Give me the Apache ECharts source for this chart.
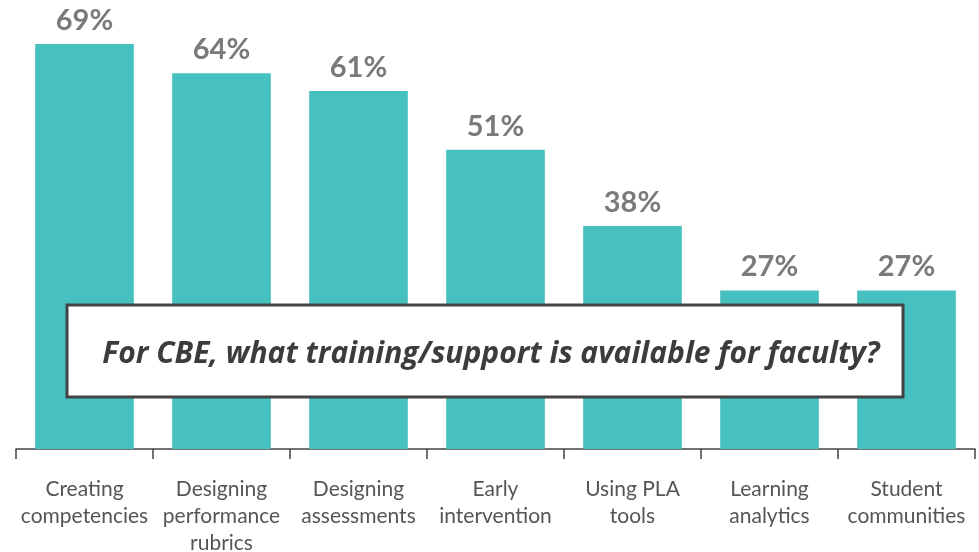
<!DOCTYPE html>
<html>
<head>
<meta charset="utf-8">
<script src="https://cdn.jsdelivr.net/npm/echarts@6/dist/echarts.min.js"></script>
<style>
  html, body { margin: 0; padding: 0; background: #fff; }
  #main { width: 979px; height: 552px; }
</style>
</head>
<body>
<div id="main"></div>
<script>
// categories and values
const categories = [
  'Creating\ncompetencies',
  'Designing\nperformance\nrubrics',
  'Designing\nassessments',
  'Early\nintervention',
  'Using PLA\ntools',
  'Learning\nanalytics',
  'Student\ncommunities'
];
const percents = [69, 64, 61, 51, 38, 27, 27];
const question = 'For CBE, what training/support is available for faculty?';

const chart = echarts.init(document.getElementById('main'));

chart.setOption({
  animation: false,
  textStyle: { fontFamily: 'Lato' },
  grid: { left: 16, right: 4, top: 44, bottom: 103, outerBoundsMode: 'none', containLabel: false },
  xAxis: {
    type: 'category',
    data: categories,
    axisLine: { lineStyle: { color: '#444', width: 1.5 } },
    axisTick: { show: true, length: 10, lineStyle: { color: '#444', width: 1.5 } },
    axisLabel: {
      color: '#555',
      fontSize: 21,
      lineHeight: 27,
      margin: 27,
      interval: 0
    }
  },
  yAxis: {
    type: 'value',
    min: 0,
    max: 69,
    show: false
  },
  series: [{
    type: 'bar',
    data: percents,
    barWidth: '72%',
    itemStyle: { color: '#47C1BF' },
    label: {
      show: true,
      position: 'top',
      distance: 9,
      formatter: '{c}%',
      color: '#7a7a7a',
      fontSize: 29,
      fontWeight: 'bold'
    }
  }],
  graphic: [{
    type: 'rect',
    z: 100,
    shape: { x: 67, y: 305, width: 836, height: 92 },
    style: { fill: '#fff', stroke: '#444', lineWidth: 3 }
  }, {
    type: 'text',
    z: 101,
    x: 491,
    y: 354,
    style: {
      text: question,
      fill: '#3c3c3c',
      font: 'italic bold 30px "Open Sans"',
      align: 'center',
      verticalAlign: 'middle'
    }
  }]
});
</script>
</body>
</html>
